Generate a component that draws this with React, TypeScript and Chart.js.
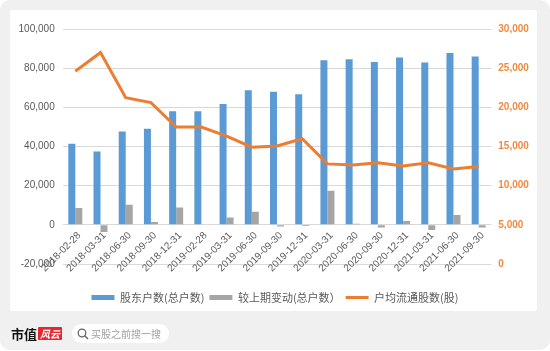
import React, { useEffect, useRef } from "react";
import { Chart, registerables } from "chart.js";

Chart.register(...registerables);

const categories = [
  "2018-02-28", "2018-03-31", "2018-06-30", "2018-09-30", "2018-12-31",
  "2019-02-28", "2019-03-31", "2019-06-30", "2019-09-30", "2019-12-31",
  "2020-03-31", "2020-06-30", "2020-09-30", "2020-12-31", "2021-03-31",
  "2021-06-30", "2021-09-30",
];
const holders = [41400, 37400, 47700, 49100, 58000, 58000, 61700, 68700, 67900, 66700, 84100, 84600, 83200, 85500, 82900, 87800, 86000];
const changes = [8600, -3600, 10200, 1400, 8800, 300, 3800, 6700, -800, -600, 17400, 500, -1300, 2000, -2700, 5000, -1300];
const avgShares = [24600, 27000, 21240, 20600, 17480, 17480, 16320, 14910, 15060, 15990, 12780, 12650, 12910, 12520, 12910, 12140, 12440];
const seriesNames = ["股东户数(总户数)", "较上期变动(总户数）", "户均流通股数(股)"];

const BLUE = "#5b9bd5";
const GRAY = "#a5a5a5";
const ORANGE = "#ed7d31";
const TEXT = "#595959";
const NUM_FONT = '"Liberation Sans", Arial, sans-serif';
const CJK_FONT = '"Noto Sans CJK SC", sans-serif';

const xLabelPlugin = {
  id: "xLabelsAtZero",
  afterDatasetsDraw(chart: any) {
    const { ctx, scales } = chart;
    const xs = scales.x;
    const ys = scales.y;
    const y0 = ys.getPixelForValue(0);
    ctx.save();
    ctx.font = `10px ${NUM_FONT}`;
    ctx.fillStyle = TEXT;
    ctx.textAlign = "right";
    ctx.textBaseline = "middle";
    categories.forEach((c, i) => {
      const px = xs.getPixelForValue(i);
      ctx.save();
      ctx.translate(px + 4, y0 + 9);
      ctx.rotate(-Math.PI / 4);
      ctx.fillText(c, 0, 0);
      ctx.restore();
    });
    ctx.restore();
  },
};

function ChartCanvas() {
  const ref = useRef<HTMLCanvasElement | null>(null);
  useEffect(() => {
    if (!ref.current) return;
    const chart = new Chart(ref.current, {
      type: "bar",
      data: {
        labels: categories,
        datasets: [
          {
            type: "bar",
            label: seriesNames[0],
            data: holders,
            backgroundColor: BLUE,
            borderWidth: 0,
            yAxisID: "y",
            order: 2,
            categoryPercentage: 0.556,
            barPercentage: 1,
          },
          {
            type: "bar",
            label: seriesNames[1],
            data: changes,
            backgroundColor: GRAY,
            borderWidth: 0,
            yAxisID: "y",
            order: 3,
            categoryPercentage: 0.556,
            barPercentage: 1,
          },
          {
            type: "line",
            label: seriesNames[2],
            data: avgShares,
            borderColor: ORANGE,
            backgroundColor: ORANGE,
            borderWidth: 3,
            pointRadius: 0,
            pointBorderWidth: 3,
            pointBorderColor: ORANGE,
            tension: 0,
            yAxisID: "y1",
            order: 1,
          } as any,
        ],
      },
      options: {
        responsive: false,
        animation: false,
        devicePixelRatio: 1,
        layout: { padding: { top: 29, bottom: 38, left: 0, right: 0 } },
        scales: {
          x: {
            display: true,
            grid: { display: false },
            border: { display: false },
            ticks: { display: false },
            afterFit: (s: any) => {
              s.height = 23;
            },
          },
          y: {
            position: "left",
            min: -20000,
            max: 100000,
            ticks: {
              stepSize: 20000,
              color: TEXT,
              font: { size: 10, family: NUM_FONT },
              padding: 8,
              callback: (v: any) => Number(v).toLocaleString("en-US"),
            },
            grid: { color: "#d9d9d9", drawTicks: false, lineWidth: 1 },
            border: { display: false },
            afterFit: (s: any) => {
              s.width = 62.7;
            },
          },
          y1: {
            position: "right",
            min: 0,
            max: 30000,
            ticks: {
              stepSize: 5000,
              color: "#f08a40",
              font: { size: 10, family: NUM_FONT, weight: "bold" },
              padding: 7,
              callback: (v: any) => Number(v).toLocaleString("en-US"),
            },
            grid: { display: false, drawTicks: false },
            border: { display: false },
            afterFit: (s: any) => {
              s.width = 58.7;
            },
          },
        },
        plugins: {
          tooltip: { enabled: false },
          legend: {
            position: "bottom",
            labels: {
              usePointStyle: true,
              pointStyleWidth: 23,
              boxHeight: 5,
              padding: 5,
              color: TEXT,
              font: { size: 11, family: CJK_FONT },
              sort: (a: any, b: any) => a.datasetIndex - b.datasetIndex,
              generateLabels: (c: any) => {
                const items = (Chart.defaults.plugins.legend.labels as any).generateLabels(c);
                items.forEach((it: any) => {
                  const i = it.datasetIndex;
                  if (i === 2) {
                    it.pointStyle = "line";
                    it.lineWidth = 3;
                    it.strokeStyle = ORANGE;
                    it.fillStyle = ORANGE;
                  } else {
                    it.pointStyle = "rect";
                    it.lineWidth = 0;
                    it.fillStyle = i === 0 ? BLUE : GRAY;
                  }
                });
                return items;
              },
            },
          },
        },
      } as any,
      plugins: [xLabelPlugin],
    });
    return () => chart.destroy();
  }, []);
  return <canvas ref={ref} width={550} height={351} style={{ position: "absolute", left: 0, top: 0, width: 550, height: 351 }} />;
}

export default function App() {
  return (
    <div style={{ position: "fixed", left: 0, top: 0, width: 550, height: 351, background: "#ffffff", overflow: "hidden" }}>
      <div style={{ position: "absolute", left: 0, top: 0, width: 550, height: 350, background: "#f0f0f0", borderRadius: 10 }} />
      <div style={{ position: "absolute", left: 10, top: 10, width: 527, height: 301, background: "#ffffff", borderRadius: 2 }} />
      <ChartCanvas />
      <div style={{ position: "absolute", left: 11, top: 326, height: 16, lineHeight: "16px", fontFamily: CJK_FONT, fontWeight: 700, fontSize: 13, color: "#111" }}>市值</div>
      <div style={{ position: "absolute", left: 38, top: 327, width: 24, height: 13, background: "#e8262b", color: "#fff", fontFamily: CJK_FONT, fontStyle: "italic", fontWeight: 700, fontSize: 10, lineHeight: "13px", textAlign: "center", borderRadius: 1 }}>风云</div>
      <div style={{ position: "absolute", left: 72, top: 324, width: 97, height: 19, background: "#ffffff", borderRadius: 10 }}>
        <svg width="12" height="12" style={{ position: "absolute", left: 5, top: 4 }} viewBox="0 0 12 12">
          <circle cx="5" cy="5" r="3.8" fill="none" stroke="#666" strokeWidth="1.3" />
          <line x1="7.8" y1="7.8" x2="11" y2="11" stroke="#666" strokeWidth="1.4" />
        </svg>
        <div style={{ position: "absolute", left: 19, top: 0, lineHeight: "19px", fontFamily: CJK_FONT, fontSize: 10, color: "#a0a0a0", whiteSpace: "nowrap" }}>买股之前搜一搜</div>
      </div>
    </div>
  );
}
